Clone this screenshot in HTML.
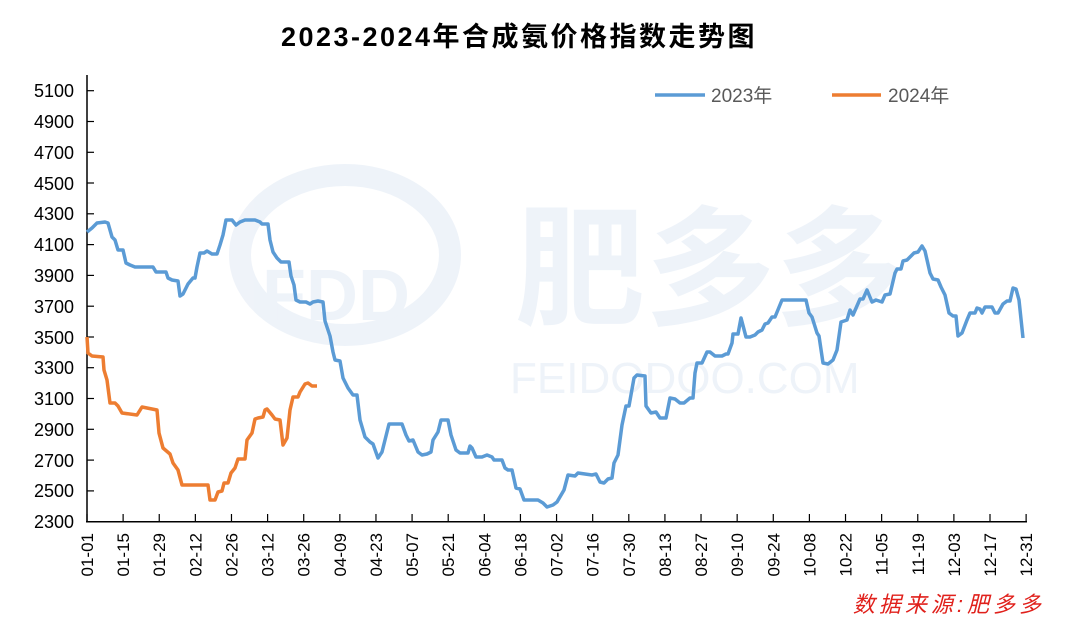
<!DOCTYPE html>
<html><head><meta charset="utf-8"><style>
body{margin:0;background:#fff;}
</style></head><body>
<svg width="1080" height="636" viewBox="0 0 1080 636" xmlns="http://www.w3.org/2000/svg" font-family="Liberation Sans, Noto Sans CJK SC, sans-serif">
<rect width="1080" height="636" fill="#fff"/>
<!-- watermark -->
<g opacity="0.09" fill="#4a7fc0">
<ellipse cx="345" cy="255" rx="105" ry="80" fill="none" stroke="#4a7fc0" stroke-width="22"/>
<text x="262" y="320" font-size="72" font-weight="bold">FDD</text>
<text x="515" y="315" font-size="130" font-weight="bold" font-family="Noto Sans CJK SC, sans-serif">肥多多</text>
<text x="510" y="393" font-size="44">FEIDODOO.COM</text>
</g>
<text x="519" y="46" text-anchor="middle" font-size="27" letter-spacing="2.5" font-weight="bold" fill="#000" font-family="Liberation Sans, Noto Sans CJK SC, sans-serif">2023-2024年合成氨价格指数走势图</text>
<!-- axes -->
<line x1="87" y1="75" x2="87" y2="522" stroke="#000" stroke-width="1.5"/>
<line x1="86" y1="521.7" x2="1027" y2="521.7" stroke="#000" stroke-width="1.5"/>
<g font-size="18" fill="#000" text-anchor="end">
<text x="74" y="97">5100</text><text x="74" y="128">4900</text><text x="74" y="159">4700</text><text x="74" y="190">4500</text><text x="74" y="220">4300</text><text x="74" y="251">4100</text><text x="74" y="282">3900</text><text x="74" y="313">3700</text><text x="74" y="344">3500</text><text x="74" y="374">3300</text><text x="74" y="405">3100</text><text x="74" y="436">2900</text><text x="74" y="467">2700</text><text x="74" y="497">2500</text><text x="74" y="528">2300</text>
</g>
<g stroke="#000" stroke-width="1.2">
<line x1="87" y1="90.7" x2="94" y2="90.7"/><line x1="87" y1="121.5" x2="94" y2="121.5"/><line x1="87" y1="152.3" x2="94" y2="152.3"/><line x1="87" y1="183" x2="94" y2="183"/><line x1="87" y1="213.8" x2="94" y2="213.8"/><line x1="87" y1="244.6" x2="94" y2="244.6"/><line x1="87" y1="275.4" x2="94" y2="275.4"/><line x1="87" y1="306.2" x2="94" y2="306.2"/><line x1="87" y1="337" x2="94" y2="337"/><line x1="87" y1="367.7" x2="94" y2="367.7"/><line x1="87" y1="398.5" x2="94" y2="398.5"/><line x1="87" y1="429.3" x2="94" y2="429.3"/><line x1="87" y1="460.1" x2="94" y2="460.1"/><line x1="87" y1="490.9" x2="94" y2="490.9"/>
</g>
<g id="xt" stroke="#000" stroke-width="1.2"></g>
<g id="xl" font-size="17" fill="#000"></g>
<script>
var labels=["01-01","01-15","01-29","02-12","02-26","03-12","03-26","04-09","04-23","05-07","05-21","06-04","06-18","07-02","07-16","07-30","08-13","08-27","09-10","09-24","10-08","10-22","11-05","11-19","12-03","12-17","12-31"];
var ns="http://www.w3.org/2000/svg",xt=document.getElementById("xt"),xl=document.getElementById("xl");
labels.forEach(function(l,i){var d=i<26?i*14:364;var x=87+d*2.58;
var t=document.createElementNS(ns,"line");t.setAttribute("x1",x);t.setAttribute("x2",x);t.setAttribute("y1",514);t.setAttribute("y2",521);xt.appendChild(t);
var s=document.createElementNS(ns,"text");s.setAttribute("transform","translate("+(x+6)+",533) rotate(-90)");s.setAttribute("text-anchor","end");s.textContent=l;xl.appendChild(s);});
</script>
<polyline fill="none" stroke="#5b9bd5" stroke-width="3.5" stroke-linejoin="round" points="87,232 92,228 97,223 105,222 108,223 112,237 115,240 118,250 123,250 126,263 130,265 135,267 153,267 156,272 166,272 168,278 172,280 178,281 180,296 183,294 188,284 193,278 195,278 197,267 200,253 204,253 207,251 212,254 217,254 220,245 223,235 226,220 232,220 236,225 240,222 245,220 255,220 260,222 262,224 268,224 270,240 273,252 277,258 281,262 289,262 291,276 294,285 296,300 300,302 306,302 310,304 313,302 318,301 323,302 325,321 328,330 330,336 333,352 335,360 340,361 343,378 348,388 353,395 357,395 360,420 365,437 370,442 373,444 378,458 382,452 385,440 389,424 402,424 406,435 409,441 413,440 418,452 422,455 427,454 431,452 433,440 438,432 441,420 448,420 451,435 456,450 460,453 468,453 470,446 472,448 476,457 482,457 487,455 492,457 494,460 502,460 505,468 508,470 512,470 516,488 520,489 524,500 538,500 543,503 547,507 553,505 557,502 564,490 568,475 575,476 578,473 585,474 592,475 596,474 600,482 604,483 608,479 612,478 614,463 618,455 622,425 626,406 629,406 634,378 637,375 645,376 646,406 651,413 656,412 660,418 666,418 670,398 675,399 680,403 684,403 690,398 693,398 695,373 697,363 702,363 707,352 710,352 715,356 722,356 726,354 728,354 732,343 733,334 738,334 741,318 746,337 750,337 755,335 758,332 762,330 765,324 768,323 772,317 775,317 782,300 806,300 809,313 812,317 817,333 819,336 823,363 828,364 833,360 837,350 841,322 847,320 850,310 853,315 860,299 863,299 867,290 872,302 876,300 882,302 885,295 890,294 895,273 897,269 901,269 903,261 907,260 910,257 914,253 918,252 922,246 925,251 930,273 933,279 938,280 941,287 945,295 949,313 953,316 956,316 958,336 962,333 967,320 970,313 975,313 977,308 980,309 982,313 985,307 992,307 995,313 998,313 1003,304 1007,301 1010,301 1013,288 1016,289 1019,300 1023,338"/>
<polyline fill="none" stroke="#ed7d31" stroke-width="3.5" stroke-linejoin="round" points="87,337 88,353 92,356 103,357 104,370 107,380 110,403 115,403 118,406 122,413 137,415 142,407 147,408 157,410 159,433 163,448 170,454 173,463 178,470 182,485 208,485 210,500 215,500 218,492 222,491 224,483 228,483 231,473 235,468 238,459 245,459 247,440 252,433 255,419 258,418 263,417 265,410 267,409 272,415 275,419 280,420 283,445 287,438 290,410 293,397 298,397 300,392 305,384 308,383 312,386 317,386"/>
<!-- legend -->
<line x1="655" y1="95" x2="705" y2="95" stroke="#5b9bd5" stroke-width="3.5"/>
<text x="711" y="102" font-size="19" fill="#595959">2023年</text>
<line x1="832" y1="95" x2="881" y2="95" stroke="#ed7d31" stroke-width="3.5"/>
<text x="888" y="102" font-size="19" fill="#595959">2024年</text>
<text x="1045" y="612" text-anchor="end" font-size="22" letter-spacing="4" font-style="italic" fill="#e0201b">数据来源:肥多多</text>
</svg>
</body></html>
